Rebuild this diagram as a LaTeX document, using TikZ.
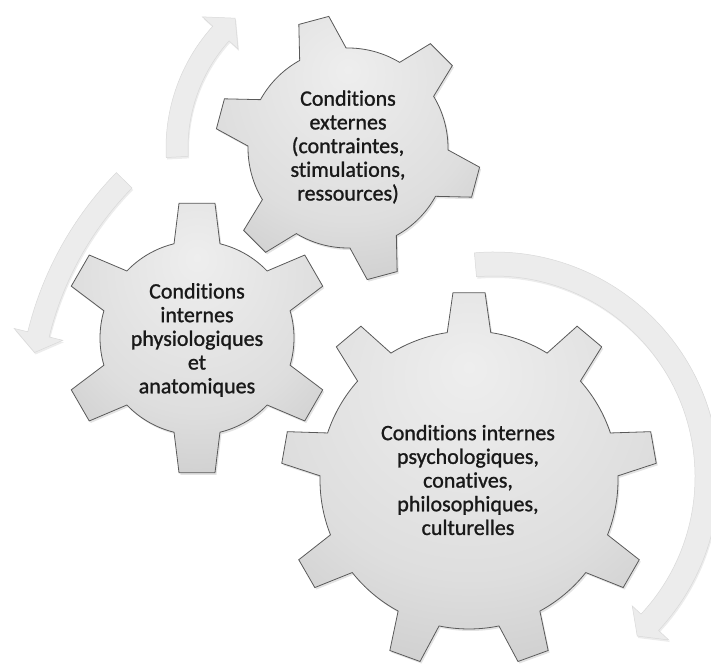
\documentclass[tikz,border=0pt]{standalone}
\usepackage{fontspec}
\setmainfont{Carlito}[Ligatures=NoCommon]
\newfontfamily\gearfont{Carlito}[Ligatures=NoCommon, FakeBold=1.1]
\usetikzlibrary{shadows}

\definecolor{gearlight}{HTML}{EEEEEE}
\definecolor{gearmid}{HTML}{DEDEDE}
\definecolor{geardark}{HTML}{ABABAB}
\definecolor{turnfill}{HTML}{ECECEC}

\pgfdeclareradialshading{gearfill}{\pgfpoint{0bp}{15bp}}{color(0bp)=(gearlight); color(25bp)=(gearmid); color(65bp)=(geardark); color(100bp)=(geardark)}

\tikzset{
  gear/.style={shading=gearfill, draw=black!65, line width=0.8pt,
    drop shadow={opacity=0.22, shadow xshift=1.5pt, shadow yshift=-2pt}},
  turn/.style={fill=turnfill, draw=gray!30, line width=0.5pt,
    drop shadow={opacity=0.15, shadow xshift=1pt, shadow yshift=-2pt}},
  gearlabel/.style={align=center, text=black!90, font=\gearfont\fontsize{22}{23.7}\selectfont}
}

\begin{document}
\begin{tikzpicture}[x=1pt, y=1pt]
    \useasboundingbox (0,0) rectangle (711,666);

    % Turning arrows (behind the gears)
    \begin{scope}[shift={(348,518)}]
        \draw[turn] (183:182) arc[start angle=183, end angle=138, radius=182] -- (138:196) -- (131:172) -- (138:148) -- (138:160) arc[start angle=138, end angle=183, radius=160] -- cycle;
    \end{scope}
    \begin{scope}[shift={(361,253)}]
        \draw[turn] (135.5:343) arc[start angle=135.5, end angle=166.3, radius=343] -- (166.3:357) -- (169.5:332) -- (166.3:307) -- (166.3:321) arc[start angle=166.3, end angle=135.5, radius=321] -- cycle;
    \end{scope}
    \begin{scope}[shift={(494,189)}]
        \draw[turn] (95:225) arc[start angle=95, end angle=-43, radius=225] -- (-43:239) -- (-48:214) -- (-43:189) -- (-43:201) arc[start angle=-43, end angle=95, radius=201] -- cycle;
    \end{scope}

    % Gear: conditions externes (6 teeth)
    \begin{scope}[shift={(348,518)}]
        \shade[gear] (45-13.9:100) \foreach \a in {45,105,...,345} {
            -- (\a-13.9:100) -- (\a-6.7:133) -- (\a+6.7:133) -- (\a+13.9:100)
            arc[start angle=\a+13.9, end angle=\a+46.1, radius=100]} -- cycle;
    \end{scope}
    \node[gearlabel] (externes) at (348,519) {Conditions\\externes\\(contraintes,\\stimulations,\\ressources)};

    % Gear: conditions internes physiologiques (6 teeth)
    \begin{scope}[shift={(197,328)}]
        \shade[gear] (30-13.7:97) \foreach \a in {30,90,...,330} {
            -- (\a-13.7:97) -- (\a-7.6:136) -- (\a+7.6:136) -- (\a+13.7:97)
            arc[start angle=\a+13.7, end angle=\a+46.3, radius=97]} -- cycle;
    \end{scope}
    \node[gearlabel] (physio) at (197,326) {Conditions\\internes\\physiologiques\\et\\anatomiques};

    % Gear: conditions internes psychologiques (9 teeth)
    \begin{scope}[shift={(469,186)}]
        \shade[gear] (90-8.4:149) \foreach \a in {90,130,...,410} {
            -- (\a-8.4:149) -- (\a-4.9:188) -- (\a+4.9:188) -- (\a+8.4:149)
            arc[start angle=\a+8.4, end angle=\a+31.6, radius=149]} -- cycle;
    \end{scope}
    \node[gearlabel] (psycho) at (468,186) {Conditions internes\\psychologiques,\\conatives,\\philosophiques,\\culturelles};
\end{tikzpicture}
\end{document}
